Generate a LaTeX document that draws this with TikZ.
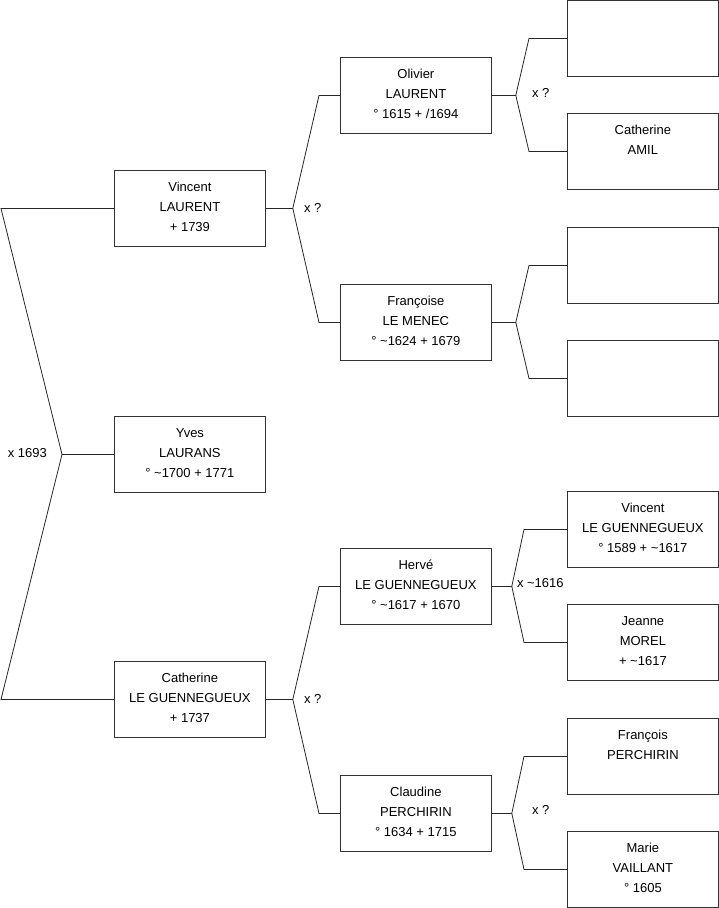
\documentclass[tikz,border=0pt]{standalone}
\usepackage{fontspec}
\setmainfont{Liberation Sans}
\usepackage{tikz}
\usetikzlibrary{positioning, calc}
\tikzstyle{person} = [rectangle, draw=black!80, line width=0.8pt, inner sep=0pt, anchor=north west, font=\fontsize{13}{20}\selectfont]
\tikzstyle{link} = [draw=black!85, line width=0.8pt]
\tikzstyle{union} = [font=\fontsize{13}{16}\selectfont, inner sep=0pt]
\newcommand{\ptext}[1]{\parbox[t][76pt][t]{151pt}{\centering\rule{0pt}{21pt}#1}}

\begin{document}
\begin{tikzpicture}[x=1pt, y=-1pt]
\useasboundingbox (0,0) rectangle (719,908);

% Generation 1
\node[person] (vin) at (114,170) {\ptext{Vincent\\LAURENT\\+ 1739}};
\node[person] (yves) at (114,416) {\ptext{Yves\\LAURANS\\° \textasciitilde1700 + 1771}};
\node[person] (cath) at (114,661) {\ptext{Catherine\\LE GUENNEGUEUX\\+ 1737}};

% Generation 2
\node[person] (oli) at (340,57) {\ptext{Olivier\\LAURENT\\° 1615 + /1694}};
\node[person] (fra) at (340,284) {\ptext{Françoise\\LE MENEC\\° \textasciitilde1624 + 1679}};
\node[person] (herve) at (340,548) {\ptext{Hervé\\LE GUENNEGUEUX\\° \textasciitilde1617 + 1670}};
\node[person] (claud) at (340,775) {\ptext{Claudine\\PERCHIRIN\\° 1634 + 1715}};

% Generation 3
\node[person] (blank1) at (567,0) {\ptext{}};
\node[person] (amil) at (567,113) {\ptext{Catherine\\AMIL}};
\node[person] (blank2) at (567,227) {\ptext{}};
\node[person] (blank3) at (567,340) {\ptext{}};
\node[person] (vlg) at (567,491) {\ptext{Vincent\\LE GUENNEGUEUX\\° 1589 + \textasciitilde1617}};
\node[person] (morel) at (567,604) {\ptext{Jeanne\\MOREL\\+ \textasciitilde1617}};
\node[person] (fperch) at (567,718) {\ptext{François\\PERCHIRIN}};
\node[person] (vaill) at (567,831) {\ptext{Marie\\VAILLANT\\° 1605}};

% Parents of Yves
\coordinate (j0) at ($(yves.west)+(-52,0)$);
\draw[link] (vin.west) -- ++(-113,0) -- (j0) -- (yves.west);
\draw[link] (cath.west) -- ++(-113,0) -- (j0);
\node[union, anchor=east] at ($(j0)+(-15,-1)$) {x 1693};

% Parents of Vincent
\draw[link] (vin.east) -- ++(27,0) coordinate (j1) -- ($(oli.west)+(-21,0)$) -- (oli.west);
\draw[link] (j1) -- ($(fra.west)+(-21,0)$) -- (fra.west);
\node[union, anchor=west] at ($(j1)+(11,0)$) {x ?};

% Parents of Catherine
\draw[link] (cath.east) -- ++(27,0) coordinate (j2) -- ($(herve.west)+(-21,0)$) -- (herve.west);
\draw[link] (j2) -- ($(claud.west)+(-21,0)$) -- (claud.west);
\node[union, anchor=west] at ($(j2)+(11,0)$) {x ?};

% Parents of Olivier
\draw[link] (oli.east) -- ++(24,0) coordinate (j3) -- ($(blank1.west)+(-38,0)$) -- (blank1.west);
\draw[link] (j3) -- ($(amil.west)+(-38,0)$) -- (amil.west);
\node[union, anchor=west] at ($(j3)+(16,-2)$) {x ?};

% Parents of Francoise
\draw[link] (fra.east) -- ++(24,0) coordinate (j4) -- ($(blank2.west)+(-38,0)$) -- (blank2.west);
\draw[link] (j4) -- ($(blank3.west)+(-38,0)$) -- (blank3.west);

% Parents of Herve
\draw[link] (herve.east) -- ++(20,0) coordinate (j5) -- ($(vlg.west)+(-43,0)$) -- (vlg.west);
\draw[link] (j5) -- ($(morel.west)+(-43,0)$) -- (morel.west);
\node[union, anchor=west] at ($(j5)+(5,-3)$) {x \textasciitilde1616};

% Parents of Claudine
\draw[link] (claud.east) -- ++(20,0) coordinate (j6) -- ($(fperch.west)+(-43,0)$) -- (fperch.west);
\draw[link] (j6) -- ($(vaill.west)+(-43,0)$) -- (vaill.west);
\node[union, anchor=west] at ($(j6)+(20,-3)$) {x ?};

\end{tikzpicture}
\end{document}
